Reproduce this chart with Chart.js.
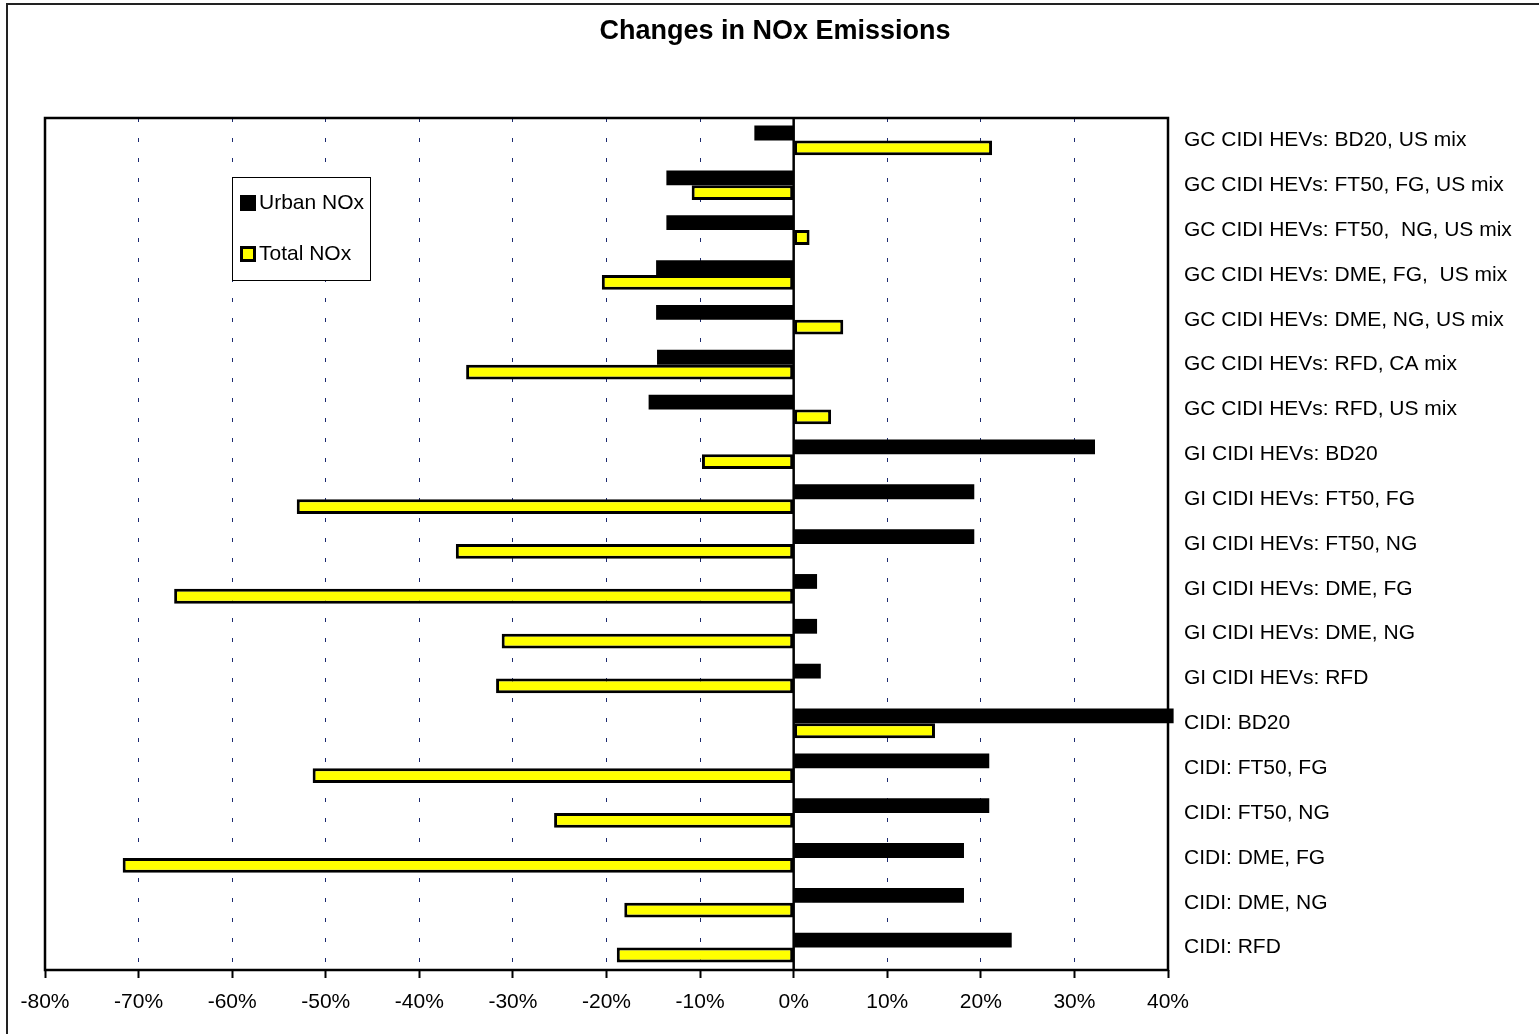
<!DOCTYPE html>
<html>
<head>
<meta charset="utf-8">
<script src="https://cdn.jsdelivr.net/npm/chart.js@4/dist/chart.umd.min.js"></script>
<style>
  html, body { margin: 0; padding: 0; background: #fff; }
  #wrap { width: 1539px; height: 1034px; }
</style>
</head>
<body>
<div id="wrap"><canvas id="noxChart" width="1539" height="1034"></canvas></div>
<script>
// categories (top to bottom)
var categories = [
  "GC CIDI HEVs: BD20, US mix",
  "GC CIDI HEVs: FT50, FG, US mix",
  "GC CIDI HEVs: FT50,  NG, US mix",
  "GC CIDI HEVs: DME, FG,  US mix",
  "GC CIDI HEVs: DME, NG, US mix",
  "GC CIDI HEVs: RFD, CA mix",
  "GC CIDI HEVs: RFD, US mix",
  "GI CIDI HEVs: BD20",
  "GI CIDI HEVs: FT50, FG",
  "GI CIDI HEVs: FT50, NG",
  "GI CIDI HEVs: DME, FG",
  "GI CIDI HEVs: DME, NG",
  "GI CIDI HEVs: RFD",
  "CIDI: BD20",
  "CIDI: FT50, FG",
  "CIDI: FT50, NG",
  "CIDI: DME, FG",
  "CIDI: DME, NG",
  "CIDI: RFD"
];
// % change
var urbanNOx = [-4.2, -13.6, -13.6, -14.7, -14.7, -14.6, -15.5, 32.2, 19.3, 19.3, 2.5, 2.5, 2.9, 40.6, 20.9, 20.9, 18.2, 18.2, 23.3];
var totalNOx = [21.2, -10.9, 1.7, -20.5, 5.3, -35.0, 4.0, -9.8, -53.1, -36.1, -66.2, -31.2, -31.8, 15.1, -51.4, -25.6, -71.7, -18.1, -18.9];
var xTicks = { min: -80, max: 40, step: 10 };
var chartTitle = 'Changes in NOx Emissions';

var font = "'Liberation Sans', Arial, Helvetica, sans-serif";

// title, outer page edge, frame round the plot, black zero line
var framePlugin = {
  id: 'frame',
  beforeDraw: function(chart) {
    var ctx = chart.ctx;
    ctx.save();
    ctx.strokeStyle = '#222';
    ctx.lineWidth = 2;
    ctx.beginPath();
    ctx.moveTo(7, 1034);
    ctx.lineTo(7, 4);
    ctx.lineTo(1539, 4);
    ctx.stroke();
    ctx.fillStyle = '#000';
    ctx.font = 'bold 27px ' + font;
    ctx.textAlign = 'center';
    ctx.textBaseline = 'middle';
    ctx.fillText(chartTitle, 775, 32);
    ctx.restore();
  },
  afterDatasetsDraw: function(chart) {
    var ctx = chart.ctx, a = chart.chartArea;
    var x0 = chart.scales.x.getPixelForValue(0);
    ctx.save();
    ctx.strokeStyle = '#000';
    ctx.lineWidth = 2.5;
    ctx.beginPath();
    ctx.moveTo(x0, a.top);
    ctx.lineTo(x0, a.bottom);
    ctx.stroke();
    ctx.strokeRect(a.left, a.top, a.right - a.left, a.bottom - a.top);
    ctx.restore();
  }
};

// boxed legend inside the plot, upper left
var boxLegend = {
  id: 'boxLegend',
  afterDraw: function(chart) {
    var ctx = chart.ctx, a = chart.chartArea;
    var bx = a.left + 187, by = a.top + 59, bw = 138, bh = 103;
    ctx.save();
    ctx.fillStyle = '#fff';
    ctx.fillRect(bx, by, bw, bh);
    ctx.strokeStyle = '#000';
    ctx.lineWidth = 1;
    ctx.strokeRect(bx + 0.5, by + 0.5, bw, bh);
    ctx.font = '21px ' + font;
    ctx.textBaseline = 'middle';
    chart.data.datasets.forEach(function(ds, i) {
      var cy = by + 26 + i * 51;
      ctx.fillStyle = '#000';
      ctx.fillRect(bx + 8, cy - 8, 16, 16);
      if (ds.borderWidth) {
        ctx.fillStyle = ds.backgroundColor;
        ctx.fillRect(bx + 11, cy - 5, 10, 10);
      }
      ctx.fillStyle = '#000';
      ctx.fillText(ds.label, bx + 27, cy);
    });
    ctx.restore();
  }
};

new Chart(document.getElementById('noxChart'), {
  type: 'bar',
  data: {
    labels: categories,
    datasets: [{
      label: 'Urban NOx',
      data: urbanNOx,
      backgroundColor: '#000000',
      borderWidth: 0,
      clip: false
    }, {
      label: 'Total NOx',
      data: totalNOx,
      backgroundColor: '#ffff00',
      borderColor: '#000000',
      borderWidth: 3,
      borderSkipped: false
    }]
  },
  options: {
    indexAxis: 'y',
    responsive: false,
    animation: false,
    layout: { padding: { left: 45, right: 0, top: 118, bottom: 0 } },
    datasets: { bar: { categoryPercentage: 0.66, barPercentage: 1.0 } },
    plugins: {
      legend: { display: false },
      tooltip: { enabled: false },
      title: { display: false }
    },
    scales: {
      x: {
        min: xTicks.min,
        max: xTicks.max,
        afterFit: function(s) { s.height = 64; },
        ticks: {
          stepSize: xTicks.step,
          color: '#000',
          padding: 12,
          font: { family: font, size: 21 },
          callback: function(v) { return v + '%'; }
        },
        grid: {
          color: '#1c2a70',
          lineWidth: 1,
          drawTicks: true,
          tickLength: 8,
          tickColor: '#000',
          tickWidth: 2,
          tickBorderDash: []
        },
        border: { display: false, dash: [4, 16] }
      },
      y: {
        position: 'right',
        afterFit: function(s) { s.width = 371; },
        ticks: {
          color: '#000',
          padding: 8,
          font: { family: font, size: 21 }
        },
        grid: { display: false },
        border: { display: false }
      }
    }
  },
  plugins: [framePlugin, boxLegend]
});
</script>
</body>
</html>
